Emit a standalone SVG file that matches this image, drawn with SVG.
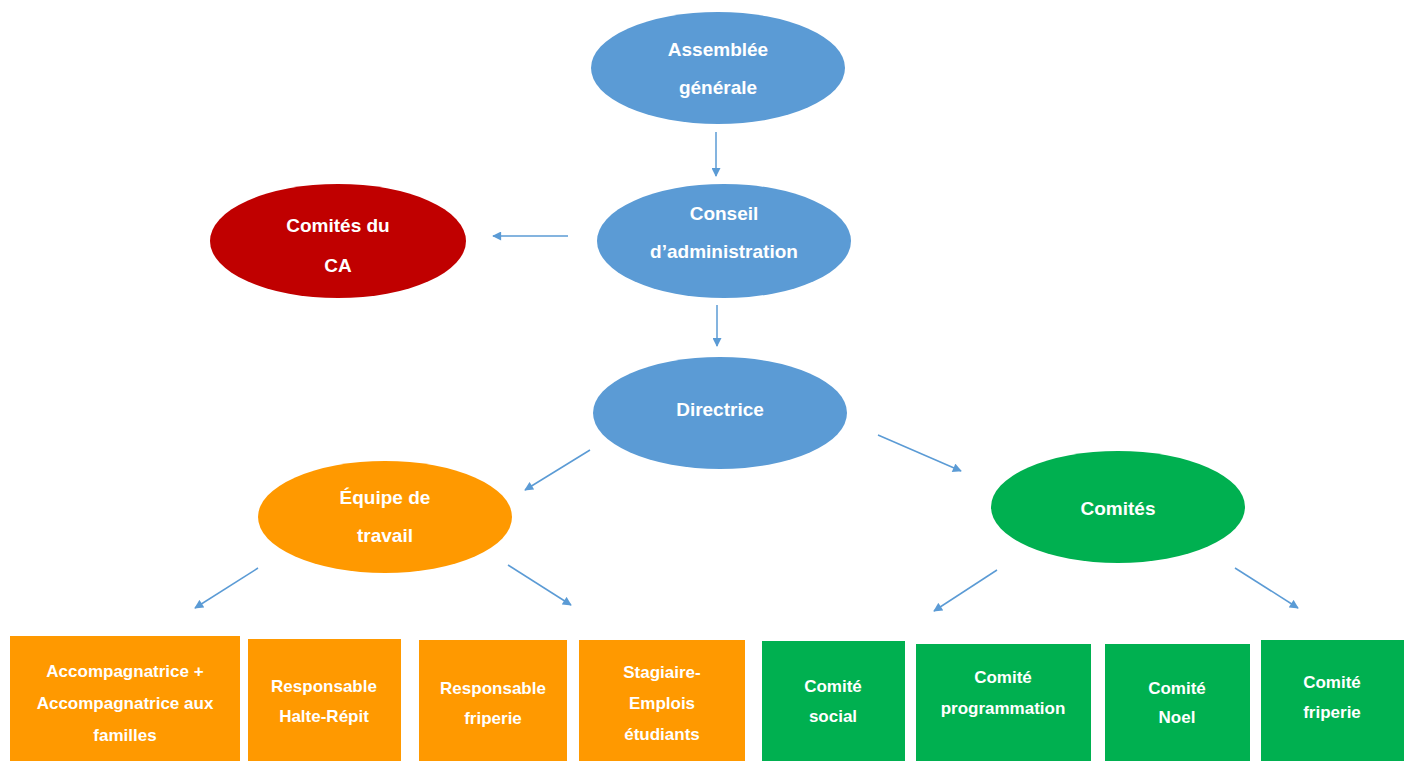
<svg xmlns="http://www.w3.org/2000/svg" width="1410" height="761" viewBox="0 0 1410 761">
<style>
text{font-family:"Liberation Sans",Arial,sans-serif;font-weight:bold;fill:#fff;text-anchor:middle;font-size:19px}
.sm{font-size:17px}
.blue{fill:#5B9BD5}
.red{fill:#C00000}
.orange{fill:#FF9900}
.green{fill:#00B050}
.con line{stroke:#5B9BD5;stroke-width:1.5;marker-end:url(#ah)}
</style>
<defs>
<marker id="ah" viewBox="0 0 10 10" refX="9" refY="5" markerWidth="10" markerHeight="9" orient="auto" markerUnits="userSpaceOnUse">
<path d="M0,0 L10,5 L0,10 z" fill="#5B9BD5"/>
</marker>
</defs>
<rect width="1410" height="761" fill="#fff"/>
<g id="connectors" class="con">
<line x1="716" y1="132" x2="716" y2="176"/>
<line x1="568" y1="236" x2="493" y2="236"/>
<line x1="717" y1="305" x2="717" y2="346"/>
<line x1="590" y1="450" x2="525" y2="490"/>
<line x1="878" y1="435" x2="961" y2="471"/>
<line x1="258" y1="568" x2="195" y2="608"/>
<line x1="508" y1="565" x2="571" y2="605"/>
<line x1="997" y1="570" x2="934" y2="611"/>
<line x1="1235" y1="568" x2="1298" y2="608"/>
</g>
<g id="assemblee"><ellipse class="blue" cx="718" cy="68" rx="127" ry="56"/><text x="718" y="56">Assemblée</text><text x="718" y="94">générale</text></g>
<g id="conseil"><ellipse class="blue" cx="724" cy="241" rx="127" ry="57"/><text x="724" y="220">Conseil</text><text x="724" y="258">d’administration</text></g>
<g id="comites-ca"><ellipse class="red" cx="338" cy="241" rx="128" ry="57"/><text x="338" y="232">Comités du</text><text x="338" y="272">CA</text></g>
<g id="directrice"><ellipse class="blue" cx="720" cy="413" rx="127" ry="56"/><text x="720" y="416">Directrice</text></g>
<g id="equipe"><ellipse class="orange" cx="385" cy="517" rx="127" ry="56"/><text x="385" y="504">Équipe de</text><text x="385" y="542">travail</text></g>
<g id="comites"><ellipse class="green" cx="1118" cy="507" rx="127" ry="56"/><text x="1118" y="515">Comités</text></g>
<g id="accompagnatrice"><rect class="orange" x="10" y="636" width="230" height="125"/><text class="sm" x="125" y="677">Accompagnatrice +</text><text class="sm" x="125" y="709">Accompagnatrice aux</text><text class="sm" x="125" y="741">familles</text></g>
<g id="halte"><rect class="orange" x="248" y="639" width="153" height="122"/><text class="sm" x="324" y="692">Responsable</text><text class="sm" x="324" y="722">Halte-Répit</text></g>
<g id="resp-friperie"><rect class="orange" x="419" y="640" width="148" height="121"/><text class="sm" x="493" y="694">Responsable</text><text class="sm" x="493" y="724">friperie</text></g>
<g id="stagiaire"><rect class="orange" x="579" y="640" width="166" height="121"/><text class="sm" x="662" y="678">Stagiaire-</text><text class="sm" x="662" y="709">Emplois</text><text class="sm" x="662" y="740">étudiants</text></g>
<g id="comite-social"><rect class="green" x="762" y="641" width="143" height="120"/><text class="sm" x="833" y="692">Comité</text><text class="sm" x="833" y="722">social</text></g>
<g id="comite-programmation"><rect class="green" x="916" y="644" width="175" height="117"/><text class="sm" x="1003" y="683">Comité</text><text class="sm" x="1003" y="714">programmation</text></g>
<g id="comite-noel"><rect class="green" x="1105" y="644" width="145" height="117"/><text class="sm" x="1177" y="694">Comité</text><text class="sm" x="1177" y="723">Noel</text></g>
<g id="comite-friperie"><rect class="green" x="1261" y="640" width="143" height="121"/><text class="sm" x="1332" y="688">Comité</text><text class="sm" x="1332" y="718">friperie</text></g>
</svg>
